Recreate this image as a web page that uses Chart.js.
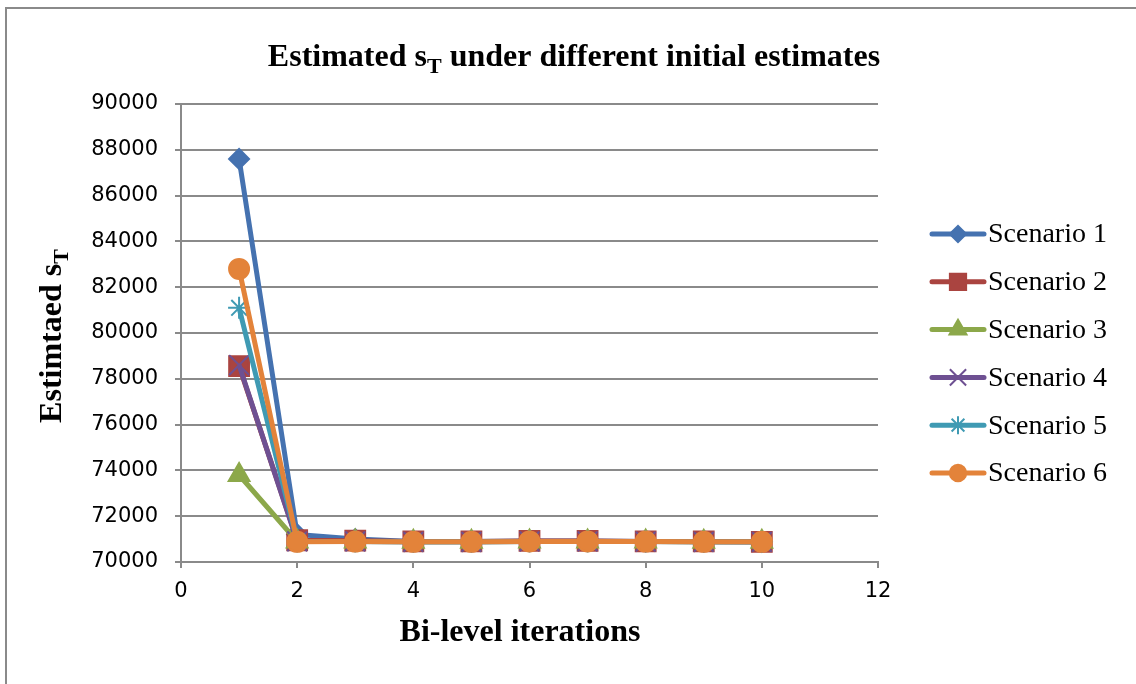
<!DOCTYPE html>
<html lang="en">
<head>
    <meta charset="UTF-8">
    <title>Estimated sT under different initial estimates</title>
    <script src="https://cdn.jsdelivr.net/npm/chart.js"></script>
    <style>
        body { margin: 0; background: #fff; }
    </style>
</head>
<body>
    <canvas id="chart" width="1136" height="684"></canvas>

    <script>
        const iterations = [1, 2, 3, 4, 5, 6, 7, 8, 9, 10];
        const scenarioNames = ['Scenario 1', 'Scenario 2', 'Scenario 3', 'Scenario 4', 'Scenario 5', 'Scenario 6'];
        const scenario1 = [87600, 71200, 71000, 70900, 70900, 70920, 70920, 70900, 70900, 70880];
        const scenario2 = [78550, 70950, 70930, 70900, 70900, 70920, 70920, 70900, 70900, 70880];
        const scenario3 = [73800, 70900, 70900, 70880, 70880, 70900, 70900, 70890, 70880, 70880];
        const scenario4 = [78600, 70900, 70900, 70880, 70880, 70900, 70900, 70890, 70880, 70880];
        const scenario5 = [81100, 70900, 70900, 70880, 70880, 70900, 70900, 70890, 70880, 70880];
        const scenario6 = [82800, 70880, 70890, 70880, 70880, 70900, 70900, 70890, 70880, 70880];
        const yTicks = { min: 70000, max: 90000, step: 2000 };
        const xTicks = { min: 0, max: 12, step: 2 };

        const colors = ['#4572B0', '#AA4440', '#8CA84A', '#6E5092', '#3F9AB3', '#E3833A'];
        const styles = [
            { pointStyle: 'rectRot', radius: 10 },
            { pointStyle: 'rect', radius: 14 },
            { pointStyle: 'triangle', radius: 12 },
            { pointStyle: 'crossRot', radius: 14 },
            { pointStyle: 'star', radius: 11 },
            { pointStyle: 'circle', radius: 10 }
        ];
        const allSeries = [scenario1, scenario2, scenario3, scenario4, scenario5, scenario6];

        const datasets = allSeries.map((vals, i) => ({
            label: scenarioNames[i],
            data: vals.map((v, j) => ({ x: iterations[j], y: v })),
            borderColor: colors[i],
            backgroundColor: colors[i],
            borderWidth: 5,
            pointStyle: styles[i].pointStyle,
            pointRadius: styles[i].radius,
            pointBorderWidth: 2,
            pointBorderColor: colors[i],
            pointBackgroundColor: colors[i],
            order: 6 - i,
            tension: 0
        }));

        const serif = '"Liberation Serif", "Times New Roman", serif';
        const axisGrey = '#8a8a8a';

        // text with a subscript T, centered on (cx, cy)
        function drawSubText(ctx, before, sub, after, cx, cy, size) {
            ctx.font = 'bold ' + size + 'px ' + serif;
            const w1 = ctx.measureText(before).width;
            const w3 = ctx.measureText(after).width;
            ctx.font = 'bold ' + Math.round(size * 0.68) + 'px ' + serif;
            const w2 = ctx.measureText(sub).width;
            let x = cx - (w1 + w2 + w3) / 2;
            ctx.textAlign = 'left';
            ctx.textBaseline = 'alphabetic';
            ctx.font = 'bold ' + size + 'px ' + serif;
            ctx.fillText(before, x, cy);
            x += w1;
            ctx.font = 'bold ' + Math.round(size * 0.68) + 'px ' + serif;
            ctx.fillText(sub, x, cy + size * 0.22);
            x += w2;
            ctx.font = 'bold ' + size + 'px ' + serif;
            ctx.fillText(after, x, cy);
        }

        const decorations = {
            id: 'decorations',
            afterDraw(chart) {
                const ctx = chart.ctx;
                ctx.save();
                // outer frame (only left and top edges are visible)
                ctx.strokeStyle = axisGrey;
                ctx.lineWidth = 2;
                ctx.beginPath();
                ctx.moveTo(6, 684);
                ctx.lineTo(6, 8);
                ctx.lineTo(1136, 8);
                ctx.stroke();

                ctx.fillStyle = '#000';
                drawSubText(ctx, 'Estimated s', 'T', ' under different initial estimates', 574, 66, 32);

                ctx.font = 'bold 32px ' + serif;
                ctx.textAlign = 'center';
                ctx.textBaseline = 'alphabetic';
                ctx.fillText('Bi-level iterations', 520, 641);

                ctx.save();
                ctx.translate(61, 336);
                ctx.rotate(-Math.PI / 2);
                drawSubText(ctx, 'Estimtaed s', 'T', '', 0, 0, 32);
                ctx.restore();

                // legend: line sample with a smaller marker
                chart.data.datasets.forEach((ds, i) => {
                    const y = 234 + i * 47.8;
                    ctx.strokeStyle = ds.borderColor;
                    ctx.lineWidth = 5;
                    ctx.lineCap = 'round';
                    ctx.beginPath();
                    ctx.moveTo(932, y);
                    ctx.lineTo(984, y);
                    ctx.stroke();
                    ctx.fillStyle = ds.pointBackgroundColor;
                    ctx.strokeStyle = ds.pointBorderColor;
                    ctx.lineWidth = 2;
                    ctx.lineCap = 'butt';
                    Chart.helpers.drawPoint(ctx, {
                        pointStyle: ds.pointStyle,
                        radius: ds.pointRadius * 0.82,
                        borderWidth: 2,
                        rotation: 0
                    }, 958, y);
                    ctx.fillStyle = '#000';
                    ctx.font = '28px ' + serif;
                    ctx.textAlign = 'left';
                    ctx.textBaseline = 'middle';
                    ctx.fillText(ds.label, 988, y + 1);
                });
                ctx.restore();
            }
        };

        const ctx = document.getElementById('chart').getContext('2d');
        const chart = new Chart(ctx, {
            type: 'line',
            data: { datasets: datasets },
            plugins: [decorations],
            options: {
                responsive: false,
                animation: false,
                layout: { padding: { top: 104, right: 258, left: 0, bottom: 0 } },
                plugins: {
                    legend: { display: false },
                    title: { display: false },
                    tooltip: { enabled: false }
                },
                scales: {
                    x: {
                        type: 'linear',
                        min: xTicks.min,
                        max: xTicks.max,
                        afterFit: (s) => { s.height = 122; },
                        ticks: {
                            stepSize: xTicks.step,
                            color: '#000',
                            padding: 11,
                            font: { family: '"DejaVu Sans"', size: 21 }
                        },
                        grid: { drawOnChartArea: false, drawTicks: true, tickLength: 6, color: axisGrey, lineWidth: 2 },
                        border: { display: true, color: axisGrey, width: 2 }
                    },
                    y: {
                        min: yTicks.min,
                        max: yTicks.max,
                        afterFit: (s) => { s.width = 181; },
                        ticks: {
                            stepSize: yTicks.step,
                            color: '#000',
                            padding: 17,
                            callback: (v) => String(v),
                            font: { family: '"DejaVu Sans"', size: 21 }
                        },
                        grid: { color: axisGrey, lineWidth: 2, tickLength: 6 },
                        border: { display: true, color: axisGrey, width: 2 }
                    }
                }
            }
        });
    </script>
</body>
</html>
